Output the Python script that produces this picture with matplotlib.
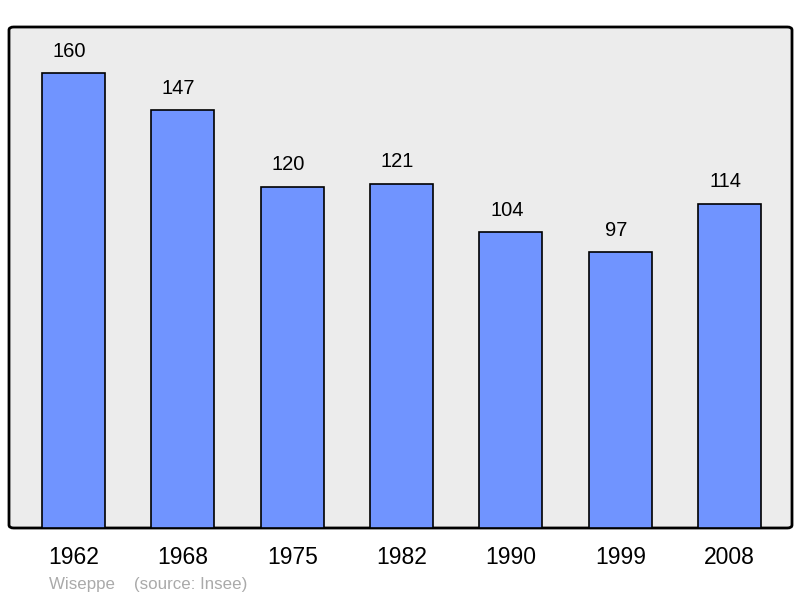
import matplotlib
matplotlib.use("Agg")
import matplotlib.pyplot as plt
from matplotlib.patches import FancyBboxPatch

years = ["1962", "1968", "1975", "1982", "1990", "1999", "2008"]
population = [160, 147, 120, 121, 104, 97, 114]

plt.rcParams['font.family'] = ['Liberation Sans', 'DejaVu Sans']

fig = plt.figure(figsize=(8, 5.98), dpi=100)
ax = fig.add_axes([9/800, 70/598, 783/800, 501/598])
ax.set_facecolor('none')
for s in ax.spines.values():
    s.set_visible(False)

frame = FancyBboxPatch((0, 0), 1, 1, boxstyle="round,pad=0,rounding_size=0.006",
                       transform=ax.transAxes, facecolor='#ececec', edgecolor='black',
                       linewidth=2, zorder=0, clip_on=False)
ax.add_patch(frame)

x = list(range(len(years)))
ax.bar(x, population, width=0.576, color='#7094ff', edgecolor='black', linewidth=1.2, zorder=2)
for xi, v in zip(x, population):
    ax.annotate(str(v), (xi, v), xytext=(-3, 9), textcoords='offset points',
                ha='center', va='bottom', fontsize=14.5, color='black')

ax.set_xlim(-0.59, 6.57)
ax.set_ylim(0, 176.2)
ax.set_yticks([])
ax.set_xticks(x)
ax.set_xticklabels(years, fontsize=16.5)
ax.tick_params(axis='x', length=0, pad=13)

fig.text(49/800, 1 - 585/598, "Wiseppe    (source: Insee)", color='#aaaaaa',
         fontsize=12.2, ha='left', va='center')

fig.savefig("out.png", dpi=100)
